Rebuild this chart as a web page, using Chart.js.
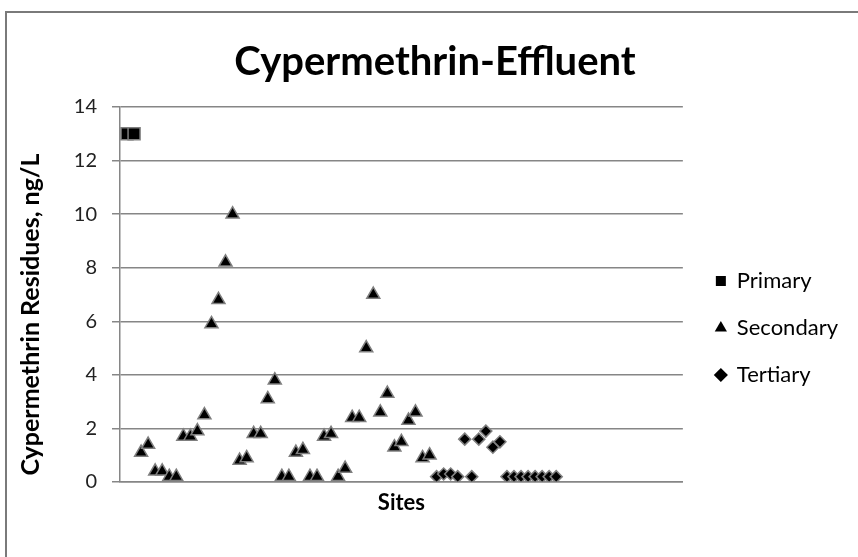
<!DOCTYPE html>
<html>
<head>
<meta charset="utf-8">
<script src="https://cdn.jsdelivr.net/npm/chart.js@4.4.1/dist/chart.umd.min.js"></script>
<style>
  html, body { margin: 0; padding: 0; background: #fff; }
  #wrap { width: 858px; height: 557px; position: relative; }
</style>
</head>
<body>
<div id="wrap"><canvas id="chart" width="858" height="557"></canvas></div>
<script>
// site numbers and residues (ng/L)
const primarySites = [1, 2];
const primaryValues = [13, 13];

const secondarySites = [3, 4, 5, 6, 7, 8, 9, 10, 11, 12, 13, 14, 15, 16, 17, 18, 19, 20, 21, 22, 23,
  24, 25, 26, 27, 28, 29, 30, 31, 32, 33, 34, 35, 36, 37, 38, 39, 40, 41, 42, 43, 44];
const secondaryValues = [1.1, 1.4, 0.4, 0.4, 0.2, 0.2, 1.7, 1.7, 1.9, 2.5, 5.9, 6.8, 8.2, 10.0, 0.8, 0.9,
  1.8, 1.8, 3.1, 3.8, 0.2, 0.2, 1.1, 1.2, 0.2, 0.2, 1.7, 1.8, 0.2, 0.5, 2.4, 2.4, 5.0, 7.0, 2.6, 3.3,
  1.3, 1.5, 2.3, 2.6, 0.9, 1.0];

const tertiarySites = [45, 46, 47, 48, 49, 50, 51, 52, 53, 54, 55, 56, 57, 58, 59, 60, 61, 62];
const tertiaryValues = [0.2, 0.3, 0.3, 0.2, 1.6, 0.2, 1.6, 1.9, 1.3, 1.5, 0.2, 0.2, 0.2, 0.2, 0.2, 0.2, 0.2, 0.2];

const siteAxisMax = 80;        // the site axis runs well past the last sample
const yTicks = [0, 2, 4, 6, 8, 10, 12, 14];
const yTitle = 'Cypermethrin Residues, ng/L';

const FONT = 'Lato, Carlito, Calibri, sans-serif';
const GRID = '#868686';

function toPoints(sites, values) {
    return sites.map((s, i) => ({ x: s, y: values[i] }));
}

// outer chart frame like the office chart border
const framePlugin = {
    id: 'frame',
    beforeDraw(chart) {
        const ctx = chart.ctx;
        ctx.save();
        ctx.strokeStyle = '#7a7a7a';
        ctx.lineWidth = 2;
        ctx.beginPath();
        ctx.moveTo(6, chart.height + 5);
        ctx.lineTo(6, 12);
        ctx.lineTo(chart.width + 5, 12);
        ctx.stroke();
        ctx.restore();
    }
};

// title and legend are centred on the whole frame, not on the plot area
const blockShift = {
    id: 'blockShift',
    afterLayout(chart) {
        const lg = chart.legend;
        if (lg) {
            lg.top += 49;
            lg.bottom += 49;
            lg.left += 8;
            lg.right += 8;
        }
        const tb = chart.titleBlock;
        if (tb) {
            tb.left += 15;
            tb.right += 15;
        }
    }
};

// y axis title, sitting a bit lower than the plot centre as in the original
const yTitlePlugin = {
    id: 'yTitle',
    afterDraw(chart) {
        const ctx = chart.ctx;
        const area = chart.chartArea;
        ctx.save();
        ctx.translate(31, (area.top + area.bottom) / 2 + 20);
        ctx.rotate(-Math.PI / 2);
        ctx.textAlign = 'center';
        ctx.textBaseline = 'middle';
        ctx.font = 'bold 25px ' + FONT;
        ctx.fillStyle = '#000';
        ctx.fillText(yTitle, 0, 0);
        ctx.restore();
    }
};

const markerStyle = {
    backgroundColor: '#000000',
    borderColor: '#7f7f7f',
    borderWidth: 1.5,
    showLine: false
};

new Chart(document.getElementById('chart'), {
    type: 'scatter',
    data: {
        datasets: [
            Object.assign({
                label: 'Primary',
                data: toPoints(primarySites, primaryValues),
                pointStyle: 'rect',
                pointRadius: 8.5
            }, markerStyle),
            Object.assign({
                label: 'Secondary',
                data: toPoints(secondarySites, secondaryValues),
                pointStyle: 'triangle',
                pointRadius: 7.5
            }, markerStyle),
            Object.assign({
                label: 'Tertiary',
                data: toPoints(tertiarySites, tertiaryValues),
                pointStyle: 'rectRot',
                pointRadius: 6
            }, markerStyle)
        ]
    },
    options: {
        responsive: false,
        animation: false,
        devicePixelRatio: 1,
        layout: { padding: { top: 38, right: 18, bottom: 37, left: 0 } },
        plugins: {
            title: {
                display: true,
                text: 'Cypermethrin-Effluent',
                color: '#000',
                font: { family: FONT, size: 40, weight: 'bold' },
                padding: { top: 0, bottom: 21 }
            },
            legend: {
                position: 'right',
                labels: {
                    color: '#000',
                    font: { family: FONT, size: 22 },
                    usePointStyle: true,
                    boxWidth: 10,
                    boxHeight: 10,
                    padding: 25,
                    generateLabels(chart) {
                        return chart.data.datasets.map((ds, i) => ({
                            text: ds.label,
                            fillStyle: '#000',
                            strokeStyle: '#000',
                            lineWidth: 0,
                            pointStyle: ds.pointStyle,
                            fontColor: '#000',
                            datasetIndex: i
                        }));
                    }
                }
            },
            tooltip: { enabled: false }
        },
        scales: {
            x: {
                type: 'linear',
                min: 0,
                max: siteAxisMax,
                grid: { display: false },
                border: { color: GRID, width: 1.5 },
                ticks: { display: false },
                title: {
                    display: true,
                    text: 'Sites',
                    color: '#000',
                    font: { family: FONT, size: 22, weight: 'bold' },
                    padding: { top: 4, bottom: 4 }
                },
                afterFit(scale) { scale.height = 38; }
            },
            y: {
                min: 0,
                max: 14,
                afterBuildTicks(scale) { scale.ticks = yTicks.map(v => ({ value: v })); },
                grid: { color: GRID, lineWidth: 1.5, tickLength: 8 },
                border: { color: GRID, width: 1.5 },
                ticks: {
                    color: '#222',
                    font: { family: FONT, size: 20 },
                    padding: 15
                },
                title: { display: false },
                afterFit(scale) { scale.width = 120; }
            }
        }
    },
    plugins: [framePlugin, blockShift, yTitlePlugin]
});
</script>
</body>
</html>
